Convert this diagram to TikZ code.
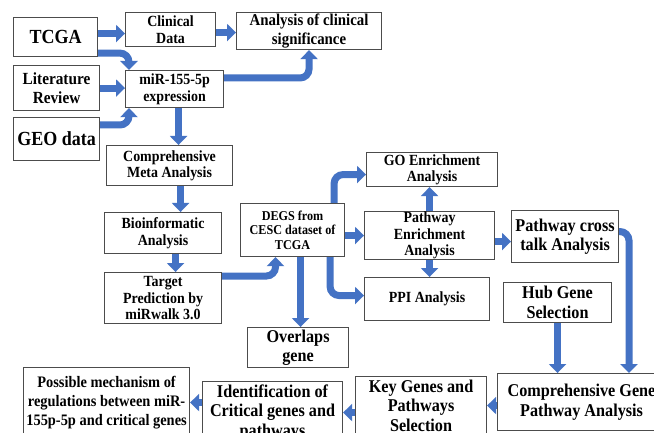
\documentclass[tikz,border=0pt]{standalone}
\usepackage{fontspec}
\setmainfont{Liberation Serif}[FakeStretch=0.9]
\usetikzlibrary{arrows.meta}
\definecolor{flowblue}{RGB}{68,114,196}
\tikzset{
  box/.style={draw=black!70, line width=1.1pt, fill=white, align=center, inner sep=0pt, anchor=north west},
  flow/.style={draw=flowblue, line width=7pt, rounded corners=9pt, -{Triangle[length=9pt,width=17pt]}},
  fhuge/.style={font=\fontsize{20}{22}\selectfont\bfseries},
  flarge/.style={font=\fontsize{18}{19.5}\selectfont\bfseries},
  fmid/.style={font=\fontsize{#1}{19}\selectfont\bfseries},
  fsmall/.style={font=\fontsize{15.5}{16.5}\selectfont\bfseries},
  ftiny/.style={font=\fontsize{13.5}{14.5}\selectfont\bfseries},
}

\begin{document}
\begin{tikzpicture}[x=1pt, y=-1pt]
  %%%%% START %%%%%
  \clip (0,0) rectangle (654,433);
  \fill[white] (0,0) rectangle (654,433);

  \node[box, fhuge, minimum width=84, minimum height=39] (tcga) at (13,17) {TCGA};
  \node[box, fsmall, minimum width=90, minimum height=34] (clin) at (125,12) {Clinical\\Data};
  \node[box, fmid=16.5, minimum width=145, minimum height=37] (sig) at (236,12) {Analysis of clinical\\significance};
  \node[box, fmid=17, minimum width=86, minimum height=45] (lit) at (13,65) {Literature\\Review};
  \node[box, fsmall, minimum width=98, minimum height=37] (mir) at (125,70) {miR-155-5p\\expression};
  \node[box, fhuge, minimum width=86, minimum height=43] (geo) at (13,117) {GEO data};

  \node[box, fsmall, minimum width=126, minimum height=40] (meta) at (106,145) {Comprehensive\\Meta Analysis};
  \node[box, fsmall, minimum width=117, minimum height=41] (bio) at (104,212) {Bioinformatic\\Analysis};
  \node[box, fsmall, minimum width=117, minimum height=51] (target) at (104,272) {Target\\Prediction by\\miRwalk 3.0};

  \node[box, ftiny, minimum width=104, minimum height=53] (degs) at (240,203) {DEGS from\\CESC dataset of\\TCGA};
  \node[box, fsmall, minimum width=131, minimum height=34] (go) at (366,152) {GO Enrichment\\Analysis};
  \node[box, fsmall, minimum width=130, minimum height=48] (pea) at (364,211) {Pathway\\Enrichment\\Analysis};
  \node[box, flarge, minimum width=107, minimum height=52] (cross) at (511,210) {Pathway cross\\talk Analysis};
  \node[box, fsmall, minimum width=125, minimum height=43] (ppi) at (364,277) {PPI Analysis};
  \node[box, flarge, minimum width=108, minimum height=40] (hub) at (503,282) {Hub Gene\\Selection};
  \node[box, flarge, minimum width=101, minimum height=40] (overlap) at (247,327) {Overlaps\\gene};

  \node[box, fmid=16, minimum width=166, minimum height=70] (poss) at (23,367) {Possible mechanism of\\regulations between miR-\\155p-5p and critical genes};
  \node[box, flarge, minimum width=140, minimum height=62] (ident) at (202,381) {Identification of\\Critical genes and\\pathways};
  \node[box, flarge, minimum width=131, minimum height=58] (key) at (355,376) {Key Genes and\\Pathways\\Selection};
  \node[box, flarge, minimum width=168, minimum height=57] (cgpa) at (497,373) {Comprehensive Gene\\Pathway Analysis};

  % arrows
  \draw[flow] ([yshift=3.5pt]tcga.east) -- ([yshift=3.5pt]tcga.east -| clin.west);
  \draw[flow] ([yshift=-3pt]clin.east) -- ([yshift=-3pt]clin.east -| sig.west);
  \draw[flow] ([yshift=4pt]tcga.south east) -| ([xshift=4pt]mir.north west);
  \draw[flow] (lit.east) -- (lit.east -| mir.west);
  \draw[flow] ([yshift=-8pt]geo.north east) -| ([xshift=4pt]mir.south west);
  \draw[flow] ([yshift=-8pt]mir.north east) -| (sig.south);
  \draw[flow] ([xshift=4pt]mir.south) -- ([xshift=4pt]mir.south |- meta.north);
  \draw[flow] ([xshift=11pt]meta.south) -- ([xshift=11pt]meta.south |- bio.north);
  \draw[flow] ([xshift=12.5pt]bio.south) -- ([xshift=12.5pt]bio.south |- target.north);
  \draw[flow] ([yshift=-4pt]target.north east) -| ([xshift=35.5pt]degs.south west);
  \draw[flow] ([xshift=-11pt]degs.north east) |- ([yshift=-5pt]go.west);
  \draw[flow] (degs.east |- pea.west) -- (pea.west);
  \draw[flow] (pea.north) -- (pea.north |- go.south);
  \draw[flow] (pea.south) -- (pea.south |- ppi.north);
  \draw[flow] ([yshift=-6pt]pea.east) -- ([yshift=-6pt]pea.east -| cross.west);
  \draw[flow] ([xshift=8pt]degs.south) -- ([xshift=8pt]degs.south |- overlap.north);
  \draw[flow] ([xshift=-15pt]degs.south east) |- ([yshift=3.5pt]ppi.west);
  \draw[flow] ([yshift=5pt]cross.east) -| ([xshift=132pt]cgpa.north west);
  \draw[flow] (hub.south) -- (hub.south |- cgpa.north);
  \draw[flow] (cgpa.west |- key.east) -- (key.east);
  \draw[flow] (key.west |- ident.east) -- (ident.east);
  \draw[flow] (ident.west |- poss.east) -- (poss.east);
  %%%%% END %%%%%
\end{tikzpicture}
\end{document}
